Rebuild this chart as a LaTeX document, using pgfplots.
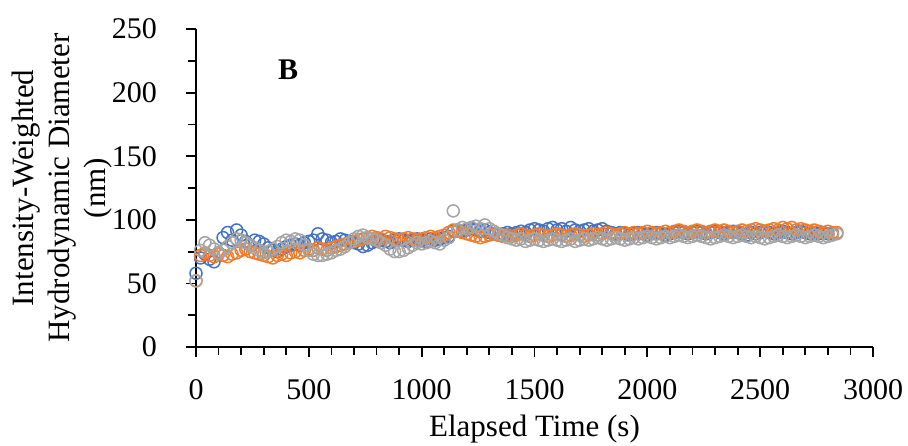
\documentclass[border=0pt]{standalone}
\usepackage{fontspec}
\setmainfont{Liberation Serif}
\usepackage{pgfplots}
\usepackage{pgfplotstable}
\pgfplotsset{compat=1.18}
\definecolor{cB}{HTML}{4472C4}
\definecolor{cO}{HTML}{ED7D31}
\definecolor{cG}{HTML}{A5A5A5}
\pgfplotstableread{
t B O G
0 58 52 52
20 70 72 76
40 73 74 82
60 69 72 80
80 67 71 77
100 74 73 74
120 86 72 76
140 90 71 79
160 84 73 82
180 92 74 85
200 88 76 84
220 83 77 82
240 80 75 80
260 84 74 78
280 83 73 76
300 81 72 74
320 78 71 75
340 76 70 77
360 75 72 79
380 77 73 82
400 79 72 84
420 80 74 83
440 81 75 85
460 80 74 84
480 82 76 80
500 83 77 76
520 84 76 73
540 89 78 72
560 85 77 72
580 84 76 73
600 82 78 74
620 83 79 76
640 85 80 77
660 84 81 79
680 83 82 82
700 82 83 85
720 81 84 87
740 79 85 88
760 80 86 86
780 82 87 85
800 83 86 84
820 84 85 82
840 83 87 80
860 82 86 77
880 84 85 75
900 85 84 75
920 84 85 76
940 83 86 78
960 84 85 80
980 85 84 82
1000 84 85 81
1020 83 86 82
1040 85 87 83
1060 84 86 82
1080 85 87 81
1100 86 88 84
1120 87 90 86
1140 91 92 107
1160 92 91 92
1180 91 90 94
1200 92 89 93
1220 93 88 94
1240 92 87 95
1260 91 86 93
1280 92 87 96
1300 90 88 93
1320 89 89 91
1340 88 88 89
1360 89 87 88
1380 90 88 86
1400 89 87 85
1420 90 88 84
1440 91 89 85
1460 90 88 83
1480 92 87 84
1500 93 88 85
1520 92 89 84
1540 91 88 83
1560 93 87 84
1580 94 88 85
1600 92 89 84
1620 93 88 83
1640 91 87 84
1660 94 88 85
1680 92 89 83
1700 91 88 84
1720 92 87 85
1740 93 88 84
1760 91 89 85
1780 92 88 86
1800 93 89 85
1820 91 90 84
1840 90 89 85
1860 89 88 86
1880 90 89 85
1900 89 90 84
1920 88 89 85
1940 89 90 86
1960 90 89 85
1980 89 90 86
2000 88 91 87
2020 89 90 86
2040 90 89 85
2060 89 90 86
2080 88 91 87
2100 89 90 86
2120 90 91 87
2140 91 92 88
2160 90 91 87
2180 89 90 86
2200 90 91 87
2220 91 92 88
2240 90 91 87
2260 89 90 86
2280 90 91 85
2300 91 92 86
2320 90 91 87
2340 89 92 88
2360 90 91 87
2380 91 90 86
2400 90 91 87
2420 89 92 88
2440 88 91 87
2460 90 92 86
2480 89 93 87
2500 90 92 86
2520 91 91 85
2540 90 92 86
2560 89 93 87
2580 90 92 88
2600 91 94 87
2620 90 93 86
2640 89 94 87
2660 90 92 88
2680 91 93 87
2700 90 92 86
2720 89 91 87
2740 90 92 88
2760 89 91 87
2780 90 90 86
2800 89 91 87
2820 89 90 88
2840 nan 90 89
}\datatable
\begin{document}
\begin{tikzpicture}[font=\fontsize{15.5}{18}\selectfont]
\begin{axis}[
  scale only axis,
  width=338.5pt, height=159pt,
  xmin=0, xmax=3000, ymin=0, ymax=250,
  axis x line*=bottom, axis y line*=left,
  axis line style={line width=0.9pt, -},
  every tick/.style={black, line width=0.9pt},
  tick align=outside,
  major tick length=4.8pt, minor tick length=3.8pt,
  xtick={0,500,...,3000}, ytick={0,50,...,250},
  minor x tick num=4, minor y tick num=1,
  /pgf/number format/assume math mode=true,
  /pgf/number format/1000 sep={},
  ticklabel style={font=\fontsize{15}{18}\selectfont},
  xticklabel style={anchor=center, yshift=-16.5pt},
  yticklabel style={anchor=east, inner xsep=0pt},
  yticklabel shift=14.5pt,
  clip=false,
]
\addplot[only marks, mark=o, mark size=3pt, cB, mark options={line width=0.75pt}] table[x=t, y=B] {\datatable};
\addplot[only marks, mark=o, mark size=3pt, cO, mark options={line width=0.75pt}] table[x=t, y=O] {\datatable};
\addplot[only marks, mark=o, mark size=3pt, cG, mark options={line width=0.75pt}] table[x=t, y=G] {\datatable};
\node[font=\fontsize{15}{18}\selectfont\bfseries] at (axis cs:408,218) {B};
\end{axis}
\node at (169.25pt,-41pt) {Elapsed Time (s)};
\node[rotate=90, align=center] at (-67pt,79.5pt) {Intensity-Weighted\\Hydrodynamic Diameter\\(nm)};
\pgfresetboundingbox
\path (-98pt,-49pt) rectangle (356pt,173.5pt);
\end{tikzpicture}
\end{document}
